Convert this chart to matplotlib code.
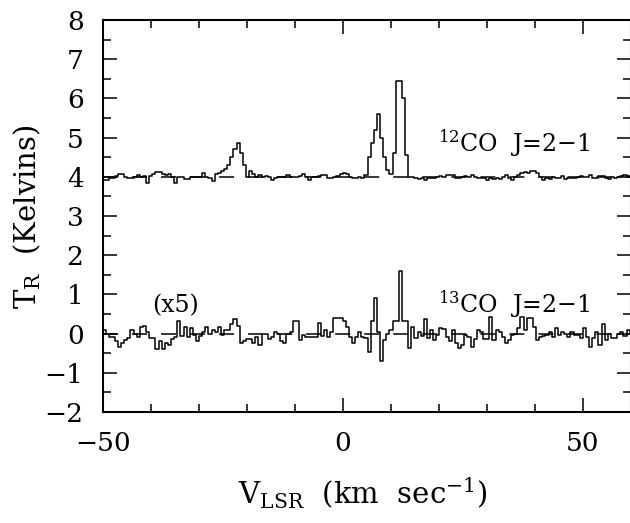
import numpy as np
import matplotlib.pyplot as plt
from matplotlib.ticker import MultipleLocator

plt.rcParams['font.family'] = ['DejaVu Serif']
plt.rcParams['mathtext.fontset'] = 'dejavuserif'
plt.rcParams['lines.scale_dashes'] = False

# channel grid (km/s)
v0 = -49.8
dv = 0.65

# 12CO J=2-1, K above its baseline (plotted with +4 K offset)
t12 = [
    -0.07, -0.07, -0.03, -0.03, 0.02, 0.08, 0.06, 0.0, -0.03, -0.03,
    0.0, 0.04, -0.01, 0.02, -0.15, 0.02, 0.06, 0.13, 0.12, 0.08,
    0.04, 0.08, 0.0, -0.15, 0.0, 0.0, -0.06, -0.06, 0.0, 0.0,
    0.0, 0.0, 0.10, 0.0, -0.04, -0.11, 0.06, 0.10, 0.16, 0.20,
    0.30, 0.50, 0.72, 0.87, 0.60, 0.30, 0.0, 0.14, 0.08, 0.0,
    0.05, 0.0, 0.02, 0.0, -0.09, -0.03, 0.0, 0.0, 0.0, 0.04,
    0.0, -0.01, 0.0, 0.02, 0.06, 0.0, -0.09, 0.0, 0.0, 0.02,
    0.04, 0.04, -0.03, -0.02, 0.0, 0.02, 0.08, 0.10, 0.08, 0.0,
    -0.02, -0.02, 0.0, -0.03, 0.05, 0.50, 0.85, 1.20, 1.60, 0.98,
    0.51, 0.17, 0.08, 0.60, 2.45, 2.45, 2.00, 0.55, 0.0, 0.0,
    -0.04, -0.06, -0.03, -0.085, -0.03, -0.04, -0.03, 0.0, 0.03, 0.0,
    0.04, 0.04, 0.04, -0.03, -0.03, 0.0, 0.03, 0.0, 0.04, 0.0,
    -0.04, -0.04, -0.04, -0.085, -0.04, -0.06, -0.03, -0.06, 0.0, 0.04,
    -0.04, -0.085, 0.0, 0.04, 0.085, 0.13, 0.085, 0.14, 0.14, 0.085,
    0.0, -0.085, -0.03, -0.06, 0.0, -0.04, -0.03, 0.03, -0.06, -0.04,
    -0.04, -0.03, 0.0, 0.03, 0.0, 0.0, 0.04, -0.03, -0.03, 0.03,
    0.03, -0.04, -0.06, 0.0, -0.04, 0.0, 0.03, 0.04, 0.03, 0.0,
]

# 13CO J=2-1, already multiplied by 5
t13_x5 = [
    0.09, 0.0, -0.09, -0.09, -0.2, -0.33, -0.25, -0.16, -0.12, 0.09,
    0.0, -0.09, 0.16, 0.2, 0.03, -0.12, -0.12, -0.4, -0.2, -0.4,
    -0.25, -0.3, -0.15, -0.09, 0.31, -0.06, 0.18, -0.09, 0.14, -0.03,
    -0.2, -0.06, 0.05, 0.18, 0.0, 0.09, 0.05, 0.18, -0.03, 0.09,
    0.09, 0.25, 0.37, 0.2, -0.25, -0.2, -0.14, -0.14, -0.25, -0.09,
    -0.29, 0.0, 0.0, -0.14, -0.09, 0.03, 0.0, -0.2, -0.25, 0.0,
    0.03, 0.31, 0.31, -0.16, -0.03, -0.08, -0.08, -0.09, -0.09, 0.28,
    -0.06, 0.09, -0.09, 0.03, 0.39, 0.39, 0.39, 0.31, 0.16, -0.09,
    -0.25, -0.09, 0.05, -0.09, -0.1, -0.46, 0.33, 0.9, 0.05, -0.71,
    -0.16, 0.0, 0.09, 0.31, 0.31, 1.6, 0.31, 0.31, -0.37, 0.18,
    -0.12, 0.03, -0.06, 0.37, -0.12, 0.09, -0.16, -0.03, 0.14, 0.11,
    -0.09, -0.2, 0.09, -0.23, -0.37, -0.29, -0.03, -0.09, -0.33, -0.14,
    0.09, 0.05, -0.14, -0.14, 0.43, -0.16, 0.09, 0.03, -0.09, -0.25,
    -0.16, -0.03, 0.0, 0.14, 0.43, 0.09, 0.39, 0.39, 0.16, -0.16,
    -0.08, -0.06, -0.03, 0.05, -0.09, 0.14, -0.03, 0.03, 0.0, -0.09,
    0.03, -0.03, -0.03, -0.12, 0.14, -0.09, -0.33, -0.12, 0.05, -0.29,
    0.25, -0.16, 0.0, -0.12, -0.12, 0.0, 0.05, -0.05, 0.1, 0.0,
]

offset12 = 4.0
baselines = [4.0, 0.0]

v = v0 + dv * np.arange(len(t12))

fig = plt.figure(figsize=(6.3, 5.23), dpi=100)
ax = fig.add_axes([103 / 630, 111 / 523, 528 / 630, 392 / 523])

for b in baselines:
    ax.plot([-50, 60], [b, b], color='k', lw=1.1, dashes=(10.8, 10.1))
ax.step(v, np.array(t12) + offset12, where='mid', color='k', lw=1.1)
ax.step(v, t13_x5, where='mid', color='k', lw=1.1)

ax.set_xlim(-50, 60)
ax.set_ylim(-2, 8)
ax.set_xticks([-50, 0, 50])
ax.xaxis.set_minor_locator(MultipleLocator(10))
ax.set_yticks(range(-2, 9))
ax.yaxis.set_minor_locator(MultipleLocator(0.5))
ax.tick_params(which='both', direction='in', top=True, right=True, width=1.1, labelsize=19)
ax.tick_params(which='major', length=10, pad=14)
ax.tick_params(which='minor', length=5.5)
for s in ax.spines.values():
    s.set_linewidth(1.5)

ax.text(19.8, 4.64, '$^{12}$CO  J=2\u22121', fontsize=17, va='baseline')
ax.text(19.8, 0.54, '$^{13}$CO  J=2\u22121', fontsize=17, va='baseline')
ax.text(-39.8, 0.54, '(x5)', fontsize=17, va='baseline')

fig.text(363 / 630, 1 - 493 / 523, 'V$_\\mathrm{LSR}$  (km  sec$^{-1}$)',
         fontsize=21, ha='center', va='center')
fig.text(27 / 630, 1 - 217 / 523, 'T$_\\mathrm{R}$  (Kelvins)',
         fontsize=21, ha='center', va='center', rotation=90)

fig.savefig('out.png', dpi=100)
